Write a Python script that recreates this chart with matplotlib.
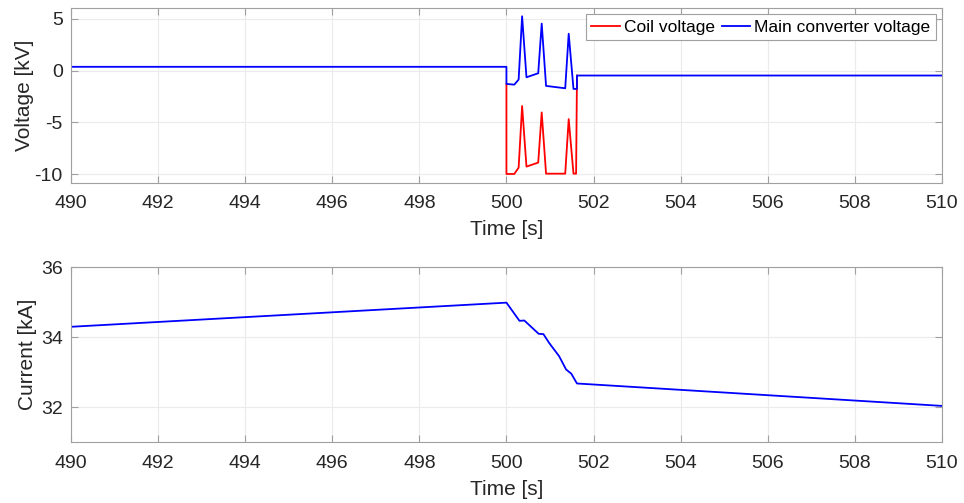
import matplotlib.pyplot as plt

plt.rcParams["font.family"] = ["Liberation Sans", "DejaVu Sans"]
plt.rcParams["font.size"] = 14
plt.rcParams["axes.unicode_minus"] = False

# Main converter voltage [kV]
t_main = [490, 500.0, 500.0, 500.18, 500.28, 500.36, 500.46, 500.73, 500.81,
          500.91, 501.35, 501.43, 501.54, 501.6, 501.62, 501.62, 510]
v_main = [0.36, 0.36, -1.29, -1.36, -0.87, 5.23, -0.65, -0.26, 4.52,
          -1.48, -1.71, 3.55, -1.77, -1.77, -1.77, -0.48, -0.48]

# Coil voltage [kV] (follows the converter outside the event, hidden below it)
t_coil = [500.0, 500.0, 500.18, 500.28, 500.36, 500.46, 500.73, 500.81,
          500.91, 501.35, 501.43, 501.54, 501.6, 501.62]
v_coil = [-1.29, -9.97, -9.97, -9.36, -3.42, -9.26, -8.87, -4.04,
          -9.94, -9.94, -4.68, -9.94, -9.94, -0.48]

# Coil current [kA]
t_curr = [490, 500.0, 500.3, 500.41, 500.74, 500.85, 500.98, 501.21, 501.37,
          501.49, 501.62, 510]
i_coil = [34.30, 34.99, 34.47, 34.48, 34.10, 34.09, 33.84, 33.46, 33.08,
          32.96, 32.68, 32.04]

xticks = list(range(490, 511, 2))
dark = "#262626"
edge = "#a0a0a0"

fig = plt.figure(figsize=(9.64, 5.03), dpi=100)
ax1 = fig.add_axes([0.0737, 0.637, 0.9033, 0.3465])
ax2 = fig.add_axes([0.0737, 0.1207, 0.9033, 0.3479])

ax1.plot(t_coil, v_coil, color="#ff0000", lw=1.3, label="Coil voltage")
ax1.plot(t_main, v_main, color="#0000ff", lw=1.3, label="Main converter voltage")
ax1.set_ylim(-10.8, 6)
ax1.set_yticks([-10, -5, 0, 5])
ax1.set_ylabel("Voltage [kV]", fontsize=15, color=dark, labelpad=0)
leg = ax1.legend(loc="upper right", fontsize=12.5, fancybox=False, framealpha=1,
                 borderpad=0.3, handlelength=1.65, handletextpad=0.23,
                 columnspacing=0.4, ncol=2, borderaxespad=0.35)
leg.get_frame().set_edgecolor(edge)
leg.get_frame().set_linewidth(0.8)

ax2.plot(t_curr, i_coil, color="#0000ff", lw=1.3)
ax2.set_ylim(31, 36)
ax2.set_yticks([32, 34, 36])
ax2.set_ylabel("Current [kA]", fontsize=15, color=dark, labelpad=3)

for ax in (ax1, ax2):
    ax.set_xlim(490, 510)
    ax.set_xticks(xticks)
    ax.set_xlabel("Time [s]", fontsize=15, color=dark, labelpad=6)
    ax.grid(True, color="#ebebeb", lw=0.8)
    ax.set_axisbelow(True)
    ax.tick_params(direction="in", top=True, right=True, length=5,
                   color=edge, labelcolor=dark, labelsize=14)
    ax.tick_params(axis="x", pad=9)
    ax.tick_params(axis="y", pad=6)
    for s in ax.spines.values():
        s.set_color(edge)
        s.set_linewidth(0.8)

fig.savefig("out.png", dpi=100)
